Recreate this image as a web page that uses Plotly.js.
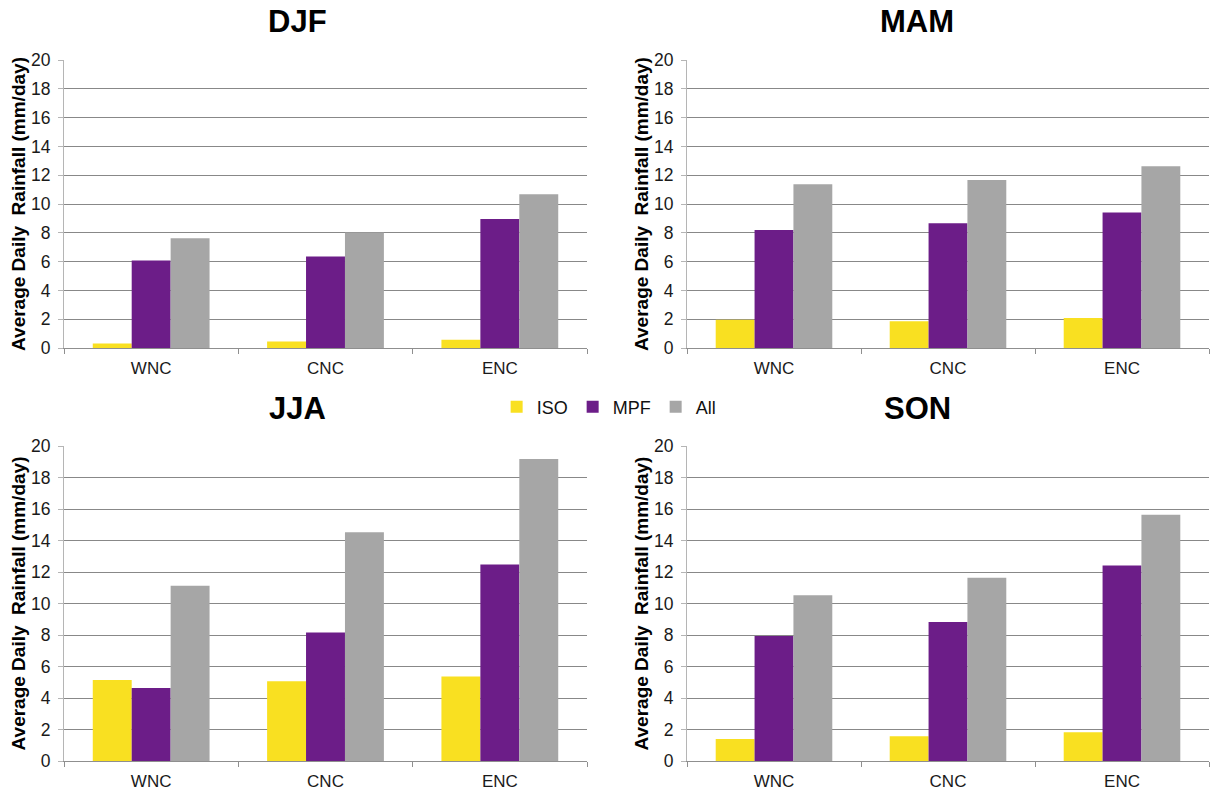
<!DOCTYPE html>
<html>
<head>
<meta charset="utf-8">
<script src="https://cdn.plot.ly/plotly-3.0.1.min.js"></script>
<style>html,body{margin:0;padding:0;background:#fff;}#chart{width:1211px;height:791px;}</style>
</head>
<body>
<div id="chart"></div>
<script>
const regions = ["WNC", "CNC", "ENC"];
const seasons = ["DJF", "MAM", "JJA", "SON"];
const seriesNames = ["ISO", "MPF", "All"];
const seriesColors = ["#F9E021", "#6C1D88", "#A6A6A6"];

const djfISO = [0.32, 0.46, 0.58];
const djfMPF = [6.07, 6.35, 8.95];
const djfAll = [7.62, 8.02, 10.68];

const mamISO = [1.97, 1.85, 2.09];
const mamMPF = [8.20, 8.67, 9.41];
const mamAll = [11.38, 11.66, 12.63];

const jjaISO = [5.15, 5.06, 5.36];
const jjaMPF = [4.64, 8.16, 12.48];
const jjaAll = [11.12, 14.53, 19.17];

const sonISO = [1.40, 1.57, 1.82];
const sonMPF = [7.94, 8.83, 12.42];
const sonAll = [10.53, 11.63, 15.64];

const yTicks = [0, 2, 4, 6, 8, 10, 12, 14, 16, 18, 20];
const yTitle = "<b>Average Daily&nbsp;&nbsp;Rainfall (mm/day)</b>";

const panelData = [
  [djfISO, djfMPF, djfAll],
  [mamISO, mamMPF, mamAll],
  [jjaISO, jjaMPF, jjaAll],
  [sonISO, sonMPF, sonAll]
];

const W = 1211, H = 791;
const font = "Liberation Sans, Arial, sans-serif";
const xDomains = [[64 / W, 587 / W], [687 / W, 1209 / W], [64 / W, 587 / W], [687 / W, 1209 / W]];
const yDomains = [[1 - 348 / H, 1 - 60 / H], [1 - 348 / H, 1 - 60 / H], [1 - 761 / H, 1 - 446 / H], [1 - 761 / H, 1 - 446 / H]];
const titleX = [297 / W, 917 / W, 297 / W, 917 / W];
const titleY = [1 - 21 / H, 1 - 21 / H, 1 - 408 / H, 1 - 408 / H];

const traces = [];
const layout = {
  width: W, height: H,
  margin: {l: 0, r: 0, t: 0, b: 0},
  paper_bgcolor: "#ffffff",
  plot_bgcolor: "#ffffff",
  barmode: "group",
  bargap: 0.33,
  bargroupgap: 0,
  font: {family: font, color: "#1a1a1a", size: 17},
  showlegend: true,
  legend: {
    orientation: "h",
    x: 0.503, xanchor: "center",
    y: 1 - 407 / H, yanchor: "middle",
    font: {family: font, size: 18, color: "#111"},
    itemwidth: 30,
    tracegroupgap: 0,
    bgcolor: "rgba(0,0,0,0)"
  },
  annotations: []
};

panelData.forEach((series, p) => {
  const ax = p === 0 ? "" : String(p + 1);
  series.forEach((vals, s) => {
    traces.push({
      type: "bar",
      x: regions,
      y: vals,
      name: seriesNames[s],
      marker: {color: seriesColors[s], line: {width: 0}},
      xaxis: "x" + ax,
      yaxis: "y" + ax,
      showlegend: p === 0,
      legendgroup: seriesNames[s],
      hoverinfo: "y"
    });
  });
  layout["xaxis" + ax] = {
    domain: xDomains[p],
    anchor: "y" + ax,
    type: "category",
    showline: true, linecolor: "#8f8f8f", linewidth: 1,
    ticks: "outside", tickson: "boundaries", ticklen: 5, tickcolor: "#8f8f8f",
    ticklabelstandoff: 5,
    showgrid: false,
    tickfont: {family: font, size: 17, color: "#1a1a1a"},
    automargin: false,
    fixedrange: true
  };
  layout["yaxis" + ax] = {
    domain: yDomains[p],
    anchor: "x" + ax,
    range: [0, 20],
    tickvals: yTicks,
    ticktext: yTicks.map(String),
    showline: true, linecolor: "#b5b5b5", linewidth: 1,
    ticks: "outside", ticklen: 5, tickcolor: "#b5b5b5",
    ticklabelstandoff: 4,
    showgrid: true, gridcolor: "#888888", gridwidth: 1,
    zeroline: false,
    tickfont: {family: font, size: 17.5, color: "#1a1a1a"},
    title: {text: yTitle, font: {family: font, size: 19, color: "#000"}, standoff: 0},
    automargin: false,
    fixedrange: true
  };
  layout.annotations.push({
    text: "<b>" + seasons[p] + "</b>",
    x: titleX[p], y: titleY[p],
    xref: "paper", yref: "paper",
    xanchor: "center", yanchor: "middle",
    showarrow: false,
    font: {family: font, size: 31, color: "#000"}
  });
});

Plotly.newPlot("chart", traces, layout, {displayModeBar: false, staticPlot: true});
</script>
</body>
</html>
